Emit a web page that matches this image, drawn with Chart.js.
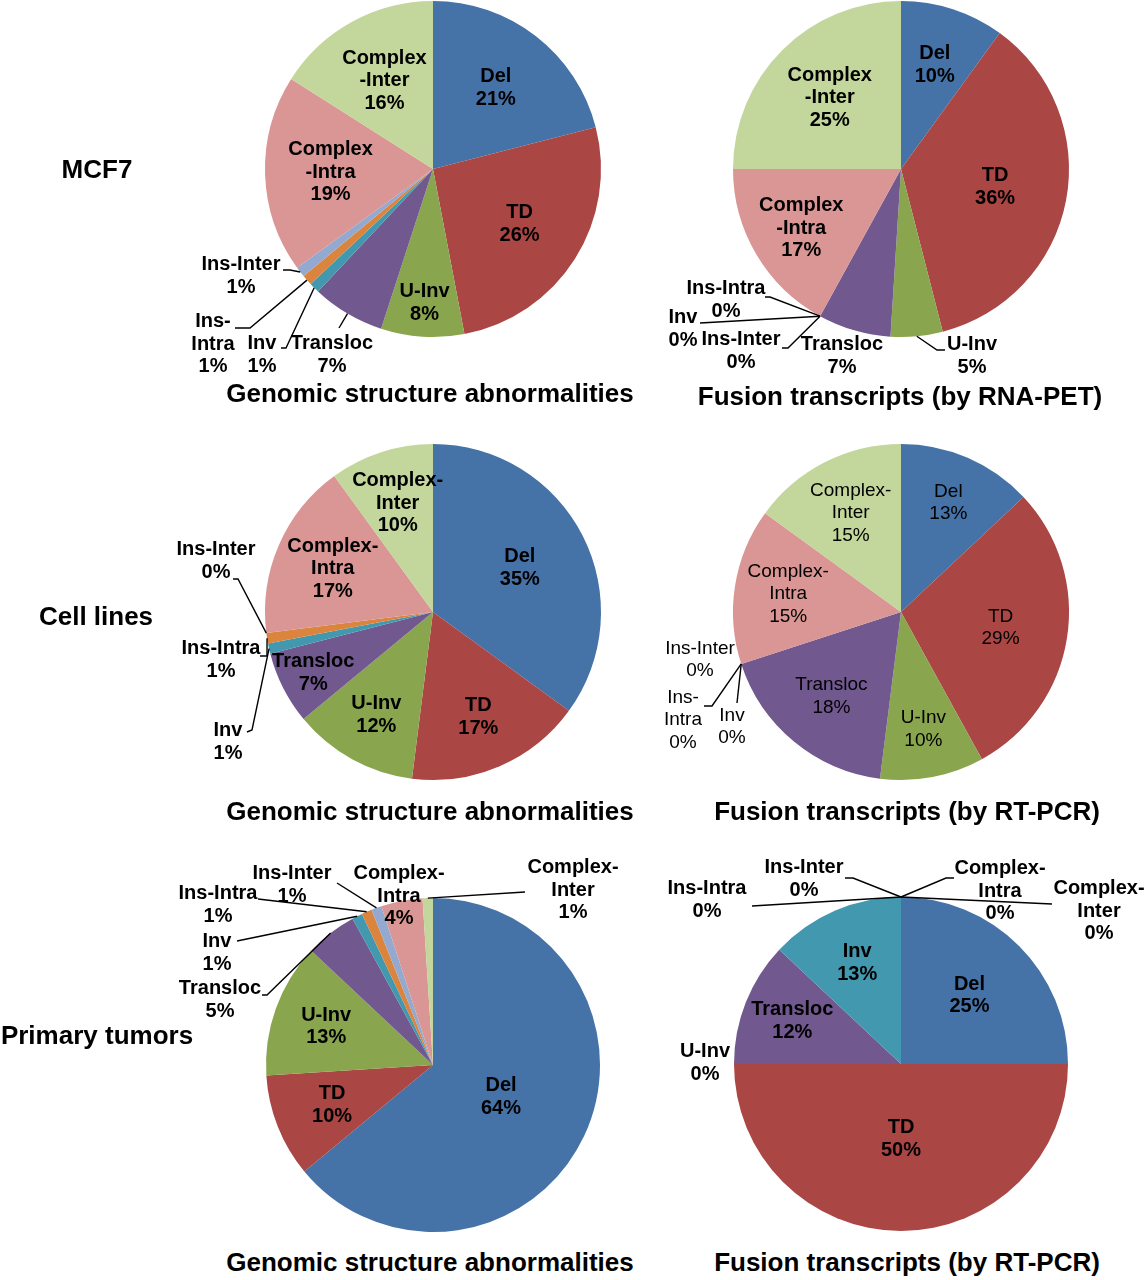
<!DOCTYPE html>
<html>
<head>
<meta charset="utf-8">
<script src="https://cdn.jsdelivr.net/npm/chart.js@4.4.0/dist/chart.umd.min.js"></script>
<style>
  body { margin: 0; background: #fff; }
  #page { position: relative; width: 1146px; height: 1280px; overflow: hidden; font-family: "Liberation Sans", Arial, sans-serif; }
  canvas { position: absolute; }
  .title, .rowlabel { position: absolute; font-weight: bold; color: #000; white-space: nowrap; text-align: center; }
  .title { font-size: 26px; width: 500px; }
  .rowlabel { font-size: 26px; width: 200px; }
</style>
</head>
<body>
<div id="page"></div>
<script>
// slice order, clockwise from 12 o'clock
const categories = ['Del', 'TD', 'U-Inv', 'Transloc', 'Inv', 'Ins-Intra', 'Ins-Inter', 'Complex-Intra', 'Complex-Inter'];

// percentages
const mcf7Genomic = [21, 26, 8, 7, 1, 1, 1, 19, 16];
const mcf7Fusion = [10, 36, 5, 7, 0, 0, 0, 17, 25];
const cellGenomic = [35, 17, 12, 7, 1, 1, 0, 17, 10];
const cellFusion = [13, 29, 10, 18, 0, 0, 0, 15, 15];
const tumorGenomic = [64, 10, 13, 5, 1, 1, 1, 4, 1];
const tumorFusion = [25, 50, 0, 12, 13, 0, 0, 0, 0];

const rowLabels = ['MCF7', 'Cell lines', 'Primary tumors'];
const genomicTitle = 'Genomic structure abnormalities';
const fusionTitles = ['Fusion transcripts (by RNA-PET)', 'Fusion transcripts (by RT-PCR)', 'Fusion transcripts (by RT-PCR)'];

const sliceColors = ['#4572a7', '#aa4643', '#89a54e', '#71588f', '#4198af', '#db843d', '#93a9cf', '#d99694', '#c3d69b'];
const FONT = '"Liberation Sans", Arial, sans-serif';

// label placement: k = fraction of radius along the slice middle,
// at = text centre offset from pie centre, line = leader elbows (offsets), wrap a/b = break after/before hyphen
const charts = [
  {
    data: mcf7Genomic, cell: [150, 0, 500, 420], center: [433, 169], radius: 168, font: 'bold 20px',
    place: [
      { k: 0.61 }, { k: 0.61 }, { k: 0.8 },
      { at: [-101, 186], line: [[-94, 159]] },
      { at: [-171, 186], line: [[-147, 179], [-152, 179]] },
      { at: [-220, 175], wrap: 'a', line: [[-183, 159], [-198, 159]] },
      { at: [-192, 107], line: [[-143, 101], [-150, 101]] },
      { k: 0.61, wrap: 'b' }, { k: 0.6, wrap: 'b' },
    ],
  },
  {
    data: mcf7Fusion, cell: [650, 0, 496, 420], center: [901, 169], radius: 168, font: 'bold 20px',
    place: [
      { k: 0.65 }, { k: 0.57 },
      { at: [71, 187], line: [[36, 181], [44, 181]] },
      { at: [-59, 187] },
      { at: [-218, 160], line: [[-201, 154]] },
      { at: [-175, 131], line: [[-131, 128], [-136, 128]] },
      { at: [-160, 182], line: [[-113, 179], [-119, 179]] },
      { k: 0.69, wrap: 'b' }, { k: 0.6, wrap: 'b' },
    ],
  },
  {
    data: cellGenomic, cell: [150, 430, 500, 410], center: [433, 612], radius: 168, font: 'bold 20px',
    place: [
      { k: 0.58 }, { k: 0.68 }, { k: 0.7 }, { k: 0.8 },
      { at: [-205, 130], line: [[-181, 118], [-186, 120]] },
      { at: [-212, 48], line: [[-166, 44], [-173, 44]] },
      { at: [-217, -51], line: [[-195, -33], [-200, -33]] },
      { k: 0.65, wrap: 'a' }, { k: 0.68, wrap: 'a' },
    ],
  },
  {
    data: cellFusion, cell: [650, 430, 496, 410], center: [901, 612], radius: 168, font: 'normal 19px',
    place: [
      { k: 0.71 }, { k: 0.6 }, { k: 0.71 }, { k: 0.65 },
      { at: [-169, 115], line: [[-164, 91]] },
      { at: [-218, 108], wrap: 'a', line: [[-189, 94], [-197, 94]] },
      { at: [-201, 48] },
      { k: 0.68, wrap: 'a' }, { k: 0.66, wrap: 'a' },
    ],
  },
  {
    data: tumorGenomic, cell: [150, 845, 500, 400], center: [433, 1065], radius: 167, font: 'bold 20px',
    place: [
      { k: 0.45 }, { k: 0.65 }, { k: 0.68 },
      { at: [-213, -65], line: [[-166, -70], [-171, -70]] },
      { at: [-216, -112], line: [[-196, -124]] },
      { at: [-215, -160], line: [[-175, -166]] },
      { at: [-141, -180], line: [[-96, -182]] },
      { at: [-34, -169], wrap: 'a' },
      { at: [140, -175], wrap: 'a', line: [[92, -173]] },
    ],
  },
  {
    data: tumorFusion, cell: [650, 845, 496, 400], center: [901, 1064], radius: 167, font: 'bold 20px',
    place: [
      { k: 0.58 }, { k: 0.45 },
      { at: [-196, -1] },
      { k: 0.7 }, { k: 0.66 },
      { at: [-194, -164], line: [[-149, -158]] },
      { at: [-97, -185], line: [[-48, -186], [-56, -186]] },
      { at: [99, -173], wrap: 'a', line: [[45, -186], [53, -186]] },
      { at: [198, -153], wrap: 'a', line: [[151, -160]] },
    ],
  },
];

// kept outside chart options so Chart.js does not resolve the keys
const placeByCanvas = new WeakMap();

function splitName(name, wrap) {
  const i = name.indexOf('-');
  if (!wrap || i < 0) return [name];
  if (wrap === 'b') return [name.slice(0, i), name.slice(i)];
  return [name.slice(0, i + 1), name.slice(i + 1)];
}

const sliceLabels = {
  id: 'sliceLabels',
  afterDatasetsDraw(chart) {
    const cfg = placeByCanvas.get(chart.canvas);
    const ctx = chart.ctx;
    const meta = chart.getDatasetMeta(0);
    const values = chart.data.datasets[0].data;
    ctx.save();
    ctx.font = cfg.font + ' ' + FONT;
    ctx.textAlign = 'center';
    ctx.textBaseline = 'middle';
    ctx.fillStyle = '#000';
    ctx.strokeStyle = '#000';
    ctx.lineWidth = 1.4;
    meta.data.forEach((arc, i) => {
      const spec = cfg.place[i];
      const p = arc.getProps(['x', 'y', 'startAngle', 'endAngle', 'outerRadius'], true);
      const mid = (p.startAngle + p.endAngle) / 2;
      let tx, ty;
      if (spec.at) {
        tx = p.x + spec.at[0];
        ty = p.y + spec.at[1];
        if (spec.line) {
          ctx.beginPath();
          ctx.moveTo(p.x + p.outerRadius * Math.cos(mid), p.y + p.outerRadius * Math.sin(mid));
          spec.line.forEach((pt) => ctx.lineTo(p.x + pt[0], p.y + pt[1]));
          ctx.stroke();
        }
      } else {
        tx = p.x + p.outerRadius * spec.k * Math.cos(mid);
        ty = p.y + p.outerRadius * spec.k * Math.sin(mid);
      }
      const lines = splitName(chart.data.labels[i], spec.wrap).concat(values[i] + '%');
      const lh = 22.5;
      lines.forEach((t, n) => ctx.fillText(t, tx, ty + (n - (lines.length - 1) / 2) * lh));
    });
    ctx.restore();
  },
};

const page = document.getElementById('page');

function addText(cls, text, cx, top) {
  const el = document.createElement('div');
  el.className = cls;
  el.textContent = text;
  const w = cls === 'title' ? 500 : 200;
  el.style.left = (cx - w / 2) + 'px';
  el.style.top = top + 'px';
  page.appendChild(el);
}

charts.forEach((c) => {
  const [x0, y0, w, h] = c.cell;
  const canvas = document.createElement('canvas');
  canvas.width = w;
  canvas.height = h;
  canvas.style.left = x0 + 'px';
  canvas.style.top = y0 + 'px';
  canvas.style.width = w + 'px';
  canvas.style.height = h + 'px';
  page.appendChild(canvas);
  placeByCanvas.set(canvas, { place: c.place, font: c.font });

  const [cx, cy] = c.center;
  const r = c.radius;
  new Chart(canvas, {
    type: 'pie',
    data: {
      labels: categories,
      datasets: [{ data: c.data, backgroundColor: sliceColors, borderWidth: 0 }],
    },
    options: {
      responsive: false,
      animation: false,
      layout: {
        padding: { left: cx - r - x0, right: x0 + w - cx - r, top: cy - r - y0, bottom: y0 + h - cy - r },
      },
      plugins: {
        legend: { display: false },
        tooltip: { enabled: false },
      },
    },
    plugins: [sliceLabels],
  });
});

addText('rowlabel', rowLabels[0], 97, 154);
addText('rowlabel', rowLabels[1], 96, 601);
addText('rowlabel', rowLabels[2], 97, 1020);

addText('title', genomicTitle, 430, 378);
addText('title', fusionTitles[0], 900, 381);
addText('title', genomicTitle, 430, 796);
addText('title', fusionTitles[1], 907, 796);
addText('title', genomicTitle, 430, 1247);
addText('title', fusionTitles[2], 907, 1247);
</script>
</body>
</html>
